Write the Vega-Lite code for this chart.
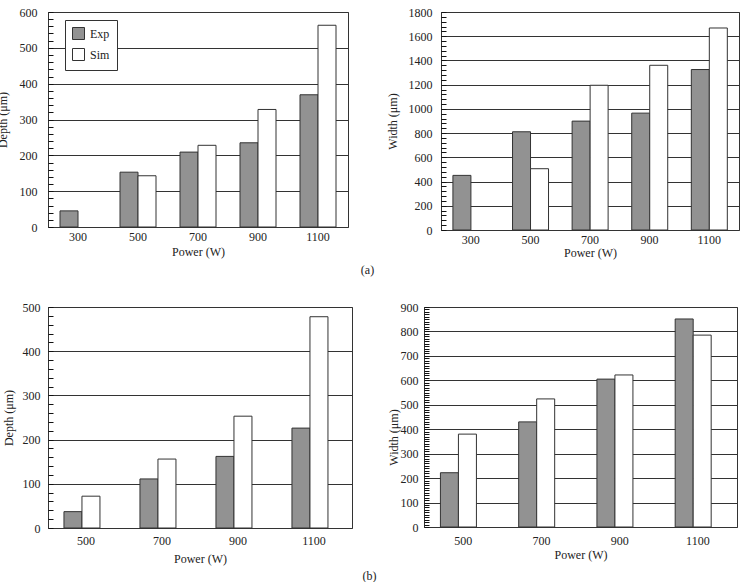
{
  "$schema": "https://vega.github.io/schema/vega-lite/v6.json",
  "padding": {"left": -5, "top": 5, "right": 0, "bottom": 0},
  "background": "white",
  "config": {
    "font": "Liberation Serif",
    "view": {"stroke": "#333333", "strokeWidth": 1},
    "axis": {
      "labelFont": "Liberation Serif",
      "labelFontSize": 12,
      "labelColor": "#222222",
      "titleFont": "Liberation Serif",
      "titleFontSize": 12,
      "titleFontWeight": "normal",
      "titleColor": "#222222",
      "gridColor": "#333333",
      "tickColor": "#111111",
      "tickOpacity": 1,
      "tickWidth": 1
    },
    "legend": {
      "orient": "none",
      "title": null,
      "fillColor": "white",
      "strokeColor": "#333333",
      "padding": 7,
      "symbolType": "square",
      "symbolSize": 144,
      "symbolStrokeColor": "#333333",
      "symbolStrokeWidth": 1,
      "labelFont": "Liberation Serif",
      "labelFontSize": 12,
      "labelColor": "#222222",
      "labelOffset": 5,
      "rowPadding": 4
    }
  },
  "datasets": {
    "depthA": [
      {"power": 300, "series": "Exp", "value": 45},
      {"power": 500, "series": "Exp", "value": 153},
      {"power": 500, "series": "Sim", "value": 143},
      {"power": 700, "series": "Exp", "value": 209},
      {"power": 700, "series": "Sim", "value": 228},
      {"power": 900, "series": "Exp", "value": 235},
      {"power": 900, "series": "Sim", "value": 328},
      {"power": 1100, "series": "Exp", "value": 369},
      {"power": 1100, "series": "Sim", "value": 563}
    ],
    "widthA": [
      {"power": 300, "series": "Exp", "value": 451},
      {"power": 500, "series": "Exp", "value": 811},
      {"power": 500, "series": "Sim", "value": 506},
      {"power": 700, "series": "Exp", "value": 899},
      {"power": 700, "series": "Sim", "value": 1195},
      {"power": 900, "series": "Exp", "value": 965},
      {"power": 900, "series": "Sim", "value": 1360},
      {"power": 1100, "series": "Exp", "value": 1325},
      {"power": 1100, "series": "Sim", "value": 1668}
    ],
    "depthB": [
      {"power": 500, "series": "Exp", "value": 37},
      {"power": 500, "series": "Sim", "value": 72},
      {"power": 700, "series": "Exp", "value": 111},
      {"power": 700, "series": "Sim", "value": 156},
      {"power": 900, "series": "Exp", "value": 162},
      {"power": 900, "series": "Sim", "value": 253},
      {"power": 1100, "series": "Exp", "value": 226},
      {"power": 1100, "series": "Sim", "value": 478}
    ],
    "widthB": [
      {"power": 500, "series": "Exp", "value": 222},
      {"power": 500, "series": "Sim", "value": 380},
      {"power": 700, "series": "Exp", "value": 430},
      {"power": 700, "series": "Sim", "value": 524},
      {"power": 900, "series": "Exp", "value": 605},
      {"power": 900, "series": "Sim", "value": 622},
      {"power": 1100, "series": "Exp", "value": 851},
      {"power": 1100, "series": "Sim", "value": 785}
    ]
  },
  "columns": 1,
  "align": "none",
  "spacing": 24,
  "concat": [
    {
      "title": {"text": "(a)", "orient": "bottom", "anchor": "middle", "font": "Liberation Serif", "fontSize": 12, "fontWeight": "normal", "color": "#222222", "offset": 6},
      "bounds": "flush",
      "spacing": 93,
      "hconcat": [
        {
          "width": 300,
          "height": 215,
          "data": {"name": "depthA"},
          "mark": {"type": "bar", "stroke": "#333333", "strokeWidth": 1},
          "encoding": {
            "x": {"field": "power", "type": "ordinal", "scale": {"paddingInner": 0.4, "paddingOuter": 0.2},
                  "axis": {"title": "Power (W)", "labelAngle": 0, "ticks": false, "domain": false, "labelPadding": 4, "titlePadding": 4}},
            "xOffset": {"field": "series", "type": "nominal", "scale": {"domain": ["Exp", "Sim"]}},
            "y": {"field": "value", "type": "quantitative", "scale": {"domain": [0, 600], "nice": false},
                  "axis": {"title": "Depth (μm)", "format": "d",
                           "values": [0, 20, 40, 60, 80, 100, 120, 140, 160, 180, 200, 220, 240, 260, 280, 300, 320, 340, 360, 380, 400, 420, 440, 460, 480, 500, 520, 540, 560, 580, 600],
                           "labelExpr": "datum.value % 100 === 0 ? datum.label : ''",
                           "grid": true,
                           "gridOpacity": {"condition": {"test": "datum.value % 100 === 0", "value": 1}, "value": 0},
                           "ticks": true, "tickSize": -5, "domain": false, "labelPadding": 16, "titleX": -39}},
            "fill": {"field": "series", "type": "nominal", "scale": {"domain": ["Exp", "Sim"], "range": ["#929292", "#ffffff"]},
                     "legend": {"legendX": 17, "legendY": 8}}
          }
        },
        {
          "width": 298,
          "height": 218,
          "data": {"name": "widthA"},
          "mark": {"type": "bar", "stroke": "#333333", "strokeWidth": 1},
          "encoding": {
            "x": {"field": "power", "type": "ordinal", "scale": {"paddingInner": 0.4, "paddingOuter": 0.2},
                  "axis": {"title": "Power (W)", "labelAngle": 0, "ticks": false, "domain": false, "labelPadding": 4, "titlePadding": 2}},
            "xOffset": {"field": "series", "type": "nominal", "scale": {"domain": ["Exp", "Sim"]}},
            "y": {"field": "value", "type": "quantitative", "scale": {"domain": [0, 1800], "nice": false},
                  "axis": {"title": "Width (μm)", "format": "d",
                           "values": [0, 40, 80, 120, 160, 200, 240, 280, 320, 360, 400, 440, 480, 520, 560, 600, 640, 680, 720, 760, 800, 840, 880, 920, 960, 1000, 1040, 1080, 1120, 1160, 1200, 1240, 1280, 1320, 1360, 1400, 1440, 1480, 1520, 1560, 1600, 1640, 1680, 1720, 1760, 1800],
                           "labelExpr": "datum.value % 200 === 0 ? datum.label : ''",
                           "grid": true,
                           "gridOpacity": {"condition": {"test": "datum.value % 200 === 0", "value": 1}, "value": 0},
                           "ticks": true, "tickSize": -5, "domain": false, "labelPadding": 14, "titleX": -42}},
            "fill": {"field": "series", "type": "nominal", "scale": {"domain": ["Exp", "Sim"], "range": ["#929292", "#ffffff"]},
                     "legend": {"legendX": 17, "legendY": 8}}
          }
        }
      ]
    },
    {
      "title": {"text": "(b)", "orient": "bottom", "anchor": "middle", "font": "Liberation Serif", "fontSize": 12, "fontWeight": "normal", "color": "#222222", "offset": 6},
      "bounds": "flush",
      "spacing": 72,
      "hconcat": [
        {
          "width": 304,
          "height": 221,
          "data": {"name": "depthB"},
          "mark": {"type": "bar", "stroke": "#333333", "strokeWidth": 1},
          "encoding": {
            "x": {"field": "power", "type": "ordinal", "scale": {"paddingInner": 0.42, "paddingOuter": 0.21},
                  "axis": {"title": "Power (W)", "labelAngle": 0, "ticks": false, "domain": false, "labelPadding": 7, "titlePadding": 7}},
            "xOffset": {"field": "series", "type": "nominal", "scale": {"domain": ["Exp", "Sim"]}},
            "y": {"field": "value", "type": "quantitative", "scale": {"domain": [0, 500], "nice": false},
                  "axis": {"title": "Depth (μm)", "format": "d",
                           "values": [0, 20, 40, 60, 80, 100, 120, 140, 160, 180, 200, 220, 240, 260, 280, 300, 320, 340, 360, 380, 400, 420, 440, 460, 480, 500],
                           "labelExpr": "datum.value % 100 === 0 ? datum.label : ''",
                           "grid": true,
                           "gridOpacity": {"condition": {"test": "datum.value % 100 === 0", "value": 1}, "value": 0},
                           "ticks": true, "tickSize": -5, "domain": false, "labelPadding": 13, "titleX": -33}},
            "fill": {"field": "series", "type": "nominal", "scale": {"domain": ["Exp", "Sim"], "range": ["#929292", "#ffffff"]},
                     "legend": {"legendX": 17, "legendY": 9}}
          }
        },
        {
          "width": 313,
          "height": 220,
          "data": {"name": "widthB"},
          "mark": {"type": "bar", "stroke": "#333333", "strokeWidth": 1},
          "encoding": {
            "x": {"field": "power", "type": "ordinal", "scale": {"paddingInner": 0.42, "paddingOuter": 0.21},
                  "axis": {"title": "Power (W)", "labelAngle": 0, "ticks": false, "domain": false, "labelPadding": 8, "titlePadding": 3}},
            "xOffset": {"field": "series", "type": "nominal", "scale": {"domain": ["Exp", "Sim"]}},
            "y": {"field": "value", "type": "quantitative", "scale": {"domain": [0, 900], "nice": false},
                  "axis": {"title": "Width (μm)", "format": "d",
                           "values": [0, 10, 20, 30, 40, 50, 60, 70, 80, 90, 100, 110, 120, 130, 140, 150, 160, 170, 180, 190, 200, 210, 220, 230, 240, 250, 260, 270, 280, 290, 300, 310, 320, 330, 340, 350, 360, 370, 380, 390, 400, 410, 420, 430, 440, 450, 460, 470, 480, 490, 500, 510, 520, 530, 540, 550, 560, 570, 580, 590, 600, 610, 620, 630, 640, 650, 660, 670, 680, 690, 700, 710, 720, 730, 740, 750, 760, 770, 780, 790, 800, 810, 820, 830, 840, 850, 860, 870, 880, 890, 900],
                           "labelExpr": "datum.value % 100 === 0 ? datum.label : ''",
                           "grid": true,
                           "gridOpacity": {"condition": {"test": "datum.value % 100 === 0", "value": 1}, "value": 0},
                           "ticks": true, "tickSize": -5, "domain": false, "labelPadding": 11, "titleX": -24, "titleY": 130}},
            "fill": {"field": "series", "type": "nominal", "scale": {"domain": ["Exp", "Sim"], "range": ["#929292", "#ffffff"]},
                     "legend": {"legendX": 20, "legendY": 9}}
          }
        }
      ]
    }
  ]
}
